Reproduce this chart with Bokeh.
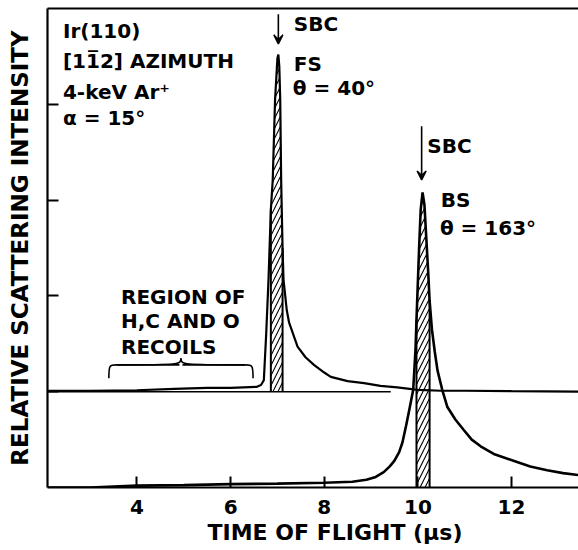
import numpy as np
from bokeh.plotting import figure
from bokeh.models import Range1d, FixedTicker, Label, Arrow, VeeHead, LinearAxis
from bokeh.embed import file_html
from bokeh.resources import INLINE

FONT = "DejaVu Sans"
STYLE = "bold"

# Time-of-flight axis (microseconds)
x_ticks = [4, 6, 8, 10, 12]
y_ticks = [1, 2, 3, 4]

# Forward-scattering spectrum (theta = 40 deg), plotted one unit above the other
fs_offset = 1.0
fs_time = [2.09, 3.0, 4.0, 4.8, 5.5, 6.0, 6.55, 6.65, 6.71, 6.76, 6.81, 6.86, 6.9,
           6.95, 7.0, 7.02, 7.04, 7.06, 7.08, 7.11, 7.13, 7.2, 7.25, 7.43, 7.6,
           7.78, 8.0, 8.14, 8.5, 8.85, 9.2, 9.56, 10.0, 10.5, 11.0, 12.0, 13.43]
fs_intensity = [0.01, 0.01, 0.015, 0.03, 0.04, 0.04, 0.05, 0.07, 0.12, 0.6, 1.17, 1.9, 2.21,
                3.05, 3.48, 3.52, 3.4, 3.05, 2.21, 1.5, 1.17, 0.85, 0.72, 0.47, 0.36,
                0.28, 0.2, 0.155, 0.11, 0.09, 0.06, 0.045, 0.02, 0.01, 0.01, 0.005, 0.0]

# Back-scattering spectrum (theta = 163 deg)
bs_time = [2.09, 3.0, 3.5, 4.0, 5.0, 6.0, 7.0, 8.0, 8.6, 8.9, 9.1, 9.27, 9.4, 9.5,
           9.6, 9.67, 9.75, 9.82, 9.9, 9.95, 9.97, 10.0, 10.03, 10.06, 10.1, 10.14,
           10.18, 10.22, 10.25, 10.3, 10.36, 10.42, 10.52, 10.63, 10.8, 10.98, 11.15,
           11.34, 11.62, 12.04, 12.4, 12.76, 13.1, 13.43]
bs_intensity = [0.0, 0.0, 0.01, 0.02, 0.025, 0.035, 0.04, 0.05, 0.06, 0.08, 0.11, 0.16, 0.22, 0.28,
                0.37, 0.47, 0.65, 0.82, 1.02, 1.45, 1.75, 2.15, 2.55, 2.9, 3.08, 2.95,
                2.6, 2.25, 1.95, 1.65, 1.42, 1.22, 1.02, 0.84, 0.71, 0.6, 0.5,
                0.43, 0.35, 0.28, 0.22, 0.18, 0.15, 0.13]

# Single-binary-collision windows (hatched)
fs_band = [6.86, 7.11]
bs_band = [9.97, 10.25]

# Straight zero line under the offset spectrum
fs_zero_x = [2.09, 9.42]

# Brace marking the recoil region
brace_x = [3.4, 6.48]
brace_y = [1.14, 1.28, 1.35]

p = figure(width=578, height=550, x_range=Range1d(2.09, 13.43), y_range=Range1d(0, 5.0),
           output_backend="svg", toolbar_location=None,
           min_border_left=47, min_border_right=0, min_border_top=8, min_border_bottom=63)
p.outline_line_color = None
p.xgrid.grid_line_color = None
p.ygrid.grid_line_color = None
p.background_fill_color = "white"
p.border_fill_color = "white"

# Axes
for ax in (p.xaxis, p.yaxis):
    ax.axis_line_width = 2.2
    ax.axis_line_color = "black"
    ax.major_tick_line_width = 2
    ax.major_tick_in = 11
    ax.major_tick_out = 0
    ax.minor_tick_line_color = None
    ax.axis_label_text_font = FONT
    ax.axis_label_text_font_style = STYLE
    ax.axis_label_text_font_size = "22px"
    ax.axis_label_text_color = "black"

p.xaxis.ticker = FixedTicker(ticks=x_ticks)
p.xaxis.major_label_text_font = FONT
p.xaxis.major_label_text_font_style = STYLE
p.xaxis.major_label_text_font_size = "20px"
p.xaxis.major_label_text_color = "black"
p.xaxis.major_label_standoff = 12
p.xaxis.axis_label = "\u2003\u2003TIME OF FLIGHT (\u03bcs)"
p.xaxis.axis_label_standoff = 3

p.yaxis.ticker = FixedTicker(ticks=y_ticks)
p.yaxis.major_label_overrides = {t: "" for t in y_ticks}
p.yaxis.major_label_text_font_size = "1px"
p.yaxis.axis_label = "RELATIVE SCATTERING INTENSITY"
p.yaxis.axis_label_text_font_size = "23px"
p.yaxis.axis_label_standoff = 15

# Top frame line
top = LinearAxis(ticker=FixedTicker(ticks=[]), axis_line_width=2.2, major_label_text_font_size="0px",
                 major_tick_line_color=None, minor_tick_line_color=None)
p.add_layout(top, "above")

fs_t = np.array(fs_time)
fs_y = np.array(fs_intensity) + fs_offset
bs_t = np.array(bs_time)
bs_y = np.array(bs_intensity)

# Hatched SBC windows
m = (fs_t >= fs_band[0]) & (fs_t <= fs_band[1])
p.varea(x=fs_t[m], y1=fs_offset, y2=fs_y[m], fill_color="white", fill_alpha=1,
        hatch_pattern="/", hatch_color="black", hatch_scale=10, hatch_weight=1.1)
p.segment(x0=[fs_t[m][0], fs_t[m][-1]], y0=[fs_offset] * 2, x1=[fs_t[m][0], fs_t[m][-1]],
          y1=[fs_y[m][0], fs_y[m][-1]], line_color="black", line_width=2)

m2 = (bs_t >= bs_band[0]) & (bs_t <= bs_band[1])
p.varea(x=bs_t[m2], y1=0, y2=bs_y[m2], fill_color="white", fill_alpha=1,
        hatch_pattern="/", hatch_color="black", hatch_scale=10, hatch_weight=1.1)
p.segment(x0=[bs_t[m2][0], bs_t[m2][-1]], y0=[0, 0], x1=[bs_t[m2][0], bs_t[m2][-1]],
          y1=[bs_y[m2][0], bs_y[m2][-1]], line_color="black", line_width=2)

# Zero line and spectra
p.line(x=fs_zero_x, y=[fs_offset] * 2, line_color="black", line_width=1.6)
p.line(x=fs_t, y=fs_y, line_color="black", line_width=2.2)
p.line(x=bs_t, y=bs_y, line_color="black", line_width=2.6)

# Brace under the recoil label
bx0, bx1 = brace_x
by_end, by_mid, by_tip = brace_y
bxm = 0.5 * (bx0 + bx1)
rx = 0.16
p.bezier(x0=[bx0, bx0 + rx, bxm, bx1 - rx], y0=[by_end, by_mid, by_tip, by_mid],
         x1=[bx0 + rx, bxm, bx1 - rx, bx1], y1=[by_mid, by_tip, by_mid, by_end],
         cx0=[bx0, bxm - rx * 0.2, bxm, bx1 - rx * 0.1],
         cy0=[by_mid, by_mid, by_mid, by_mid],
         cx1=[bx0 + rx * 0.1, bxm, bxm + rx * 0.2, bx1],
         cy1=[by_mid, by_mid, by_mid, by_mid],
         line_color="black", line_width=1.6)
p.segment(x0=[bx0 + rx, bxm + rx * 0.2], y0=[by_mid] * 2, x1=[bxm - rx * 0.2, bx1 - rx],
          y1=[by_mid] * 2, line_color="black", line_width=1.6)

# SBC arrows
for xa, ys, ye in [(7.02, 4.94, 4.63), (10.08, 3.77, 3.21)]:
    p.add_layout(Arrow(end=VeeHead(size=9, line_width=1.5, line_color="black"),
                       x_start=xa, y_start=ys, x_end=xa, y_end=ye,
                       line_color="black", line_width=1.6))


def label(x, y, text, align="left", size="20px"):
    p.add_layout(Label(x=x, y=y, text=text, text_font=FONT, text_font_size=size,
                       text_font_style=STYLE, text_align=align, text_baseline="middle",
                       text_color="black"))


label(2.42, 4.76, "Ir(110)")
label(2.42, 4.45, "[11\u03052] AZIMUTH")
label(2.42, 4.13, "4-keV Ar\u207a")
label(2.42, 3.86, "\u03b1 = 15\u00b0")
label(7.35, 4.84, "SBC")
label(7.35, 4.42, "FS")
label(7.33, 4.17, "\u03b8 = 40\u00b0")
label(10.2, 3.56, "SBC")
label(10.49, 3.0, "BS")
label(10.47, 2.71, "\u03b8 = 163\u00b0")
label(3.66, 1.99, "REGION OF")
label(3.66, 1.74, "H,C AND O")
label(3.66, 1.47, "RECOILS")

open("out.html", "w").write(file_html(p, INLINE))
